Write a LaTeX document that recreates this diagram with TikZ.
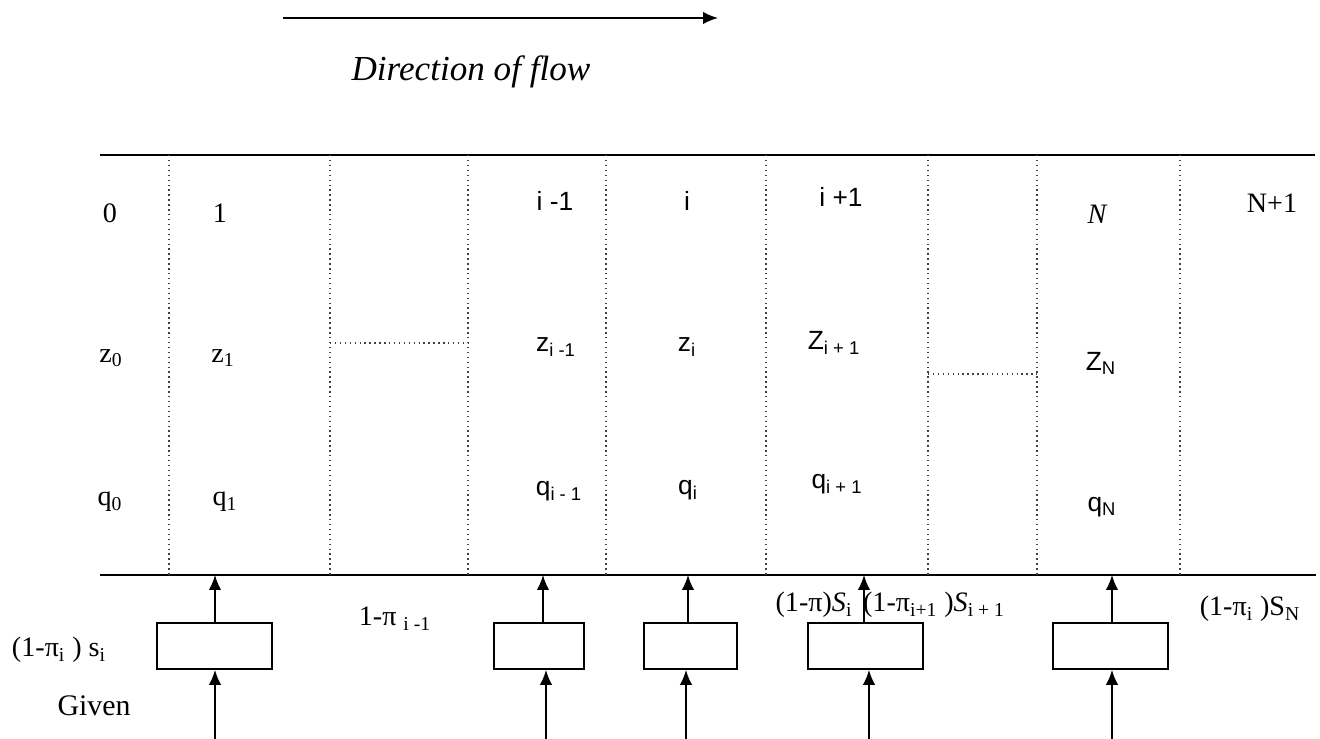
\documentclass[tikz,border=0pt]{standalone}
\usepackage{fontspec}
\setmainfont{Liberation Serif}
\newfontfamily\sanslab{Liberation Sans}
\usetikzlibrary{arrows.meta}
\tikzset{
  lab/.style={font=\fontsize{16}{18}\selectfont, inner sep=0pt},
  slab/.style={font=\sanslab\fontsize{15}{18}\selectfont, inner sep=0pt},
  cell/.style={dotted, line width=0.8pt, draw=black!75},
  rail/.style={line width=1.1pt},
  unit/.style={draw, line width=1pt, minimum height=0.92cm, inner sep=0pt},
  feed/.style={-{Latex[length=0.3cm,width=0.25cm]}, line width=1pt},
}
\begin{document}
\begin{tikzpicture}[x=0.02cm, y=-0.02cm]
\useasboundingbox (0,0) rectangle (1320,739);
% direction of flow
\coordinate (fs) at (283,18);
\coordinate (fe) at (718,18);
\draw[feed] (fs) -- (fe);
\node[font=\fontsize{20}{22}\selectfont\itshape, inner sep=0pt] (flow) at (471,72) {Direction of flow};
% rails
\coordinate (tl) at (100,155); \coordinate (tr) at (1315,155);
\coordinate (bl) at (100,575); \coordinate (br) at (1316,575);
\draw[rail] (tl) -- (tr);
\draw[rail] (bl) -- (br);
% cell walls
\foreach \x in {169,330,468,606,766,928,1037,1180}
  \draw[cell] (\x,155) -- (\x,575);
\draw[cell] (330,343) -- (468,343);
\draw[cell] (928,374) -- (1037,374);
% row 1
\node[lab] (n0) at (110,213) {0};
\node[lab] (n1) at (220,213) {1};
\node[slab] (nim) at (555,201) {i -1};
\node[slab] (ni) at (687,201) {i};
\node[slab] (nip) at (841,197) {i +1};
\node[lab, font=\fontsize{16}{18}\selectfont\itshape] (nN) at (1097,214) {N};
\node[lab] (nN1) at (1272,203) {N+1};
% row 2
\node[lab] (z0) at (111,358) {z\textsubscript{0}};
\node[lab] (z1) at (223,358) {z\textsubscript{1}};
\node[slab] (zim) at (556,347) {z\textsubscript{i -1}};
\node[slab] (zi) at (687,347) {z\textsubscript{i}};
\node[slab] (zip) at (834,343) {Z\textsubscript{i + 1}};
\node[slab] (zN) at (1101,363) {Z\textsubscript{N}};
% row 3
\node[lab] (q0) at (110,502) {q\textsubscript{0}};
\node[lab] (q1) at (225,502) {q\textsubscript{1}};
\node[slab] (qim) at (559,491) {q\textsubscript{i - 1}};
\node[slab] (qi) at (688,490) {q\textsubscript{i}};
\node[slab] (qip) at (837,484) {q\textsubscript{i + 1}};
\node[slab] (qN) at (1102,507) {q\textsubscript{N}};
% boxes
\node[unit, minimum width=2.3cm] (b1) at (214.5,646) {};
\node[unit, minimum width=1.8cm] (b2) at (539,646) {};
\node[unit, minimum width=1.86cm] (b3) at (690.5,646) {};
\node[unit, minimum width=2.3cm] (b4) at (865.5,646) {};
\node[unit, minimum width=2.3cm] (b5) at (1110.5,646) {};
% arrows into the rail
\coordinate (t1) at (215,575);
\coordinate (t2) at (543,575);
\coordinate (t3) at (688,575);
\coordinate (t4) at (864,575);
\coordinate (t5) at (1112,575);
\foreach \k in {1,...,5}
  \draw[feed] (t\k |- b\k.north) -- (t\k);
% arrows into the boxes
\coordinate (g1) at (215,739);
\coordinate (g2) at (546,739);
\coordinate (g3) at (686,739);
\coordinate (g4) at (869,739);
\coordinate (g5) at (1112,739);
\foreach \k in {1,...,5}
  \draw[feed] (g\k) -- (g\k |- b\k.south);
% bottom labels
\node[lab] (s1) at (59,650) {(1-π\textsubscript{i} ) s\textsubscript{i}};
\node[lab, font=\fontsize{17}{19}\selectfont] (given) at (94,706) {Given};
\node[lab] (pim) at (395,619) {1-π \textsubscript{i -1}};
\node[lab] (si) at (814,605) {(1-π)\textit{S}\textsubscript{i}};
\node[lab] (sip) at (934,605) {(1-π\textsubscript{i+1} )\textit{S}\textsubscript{i + 1}};
\node[lab] (sN) at (1250,609) {(1-π\textsubscript{i} )S\textsubscript{N}};
\end{tikzpicture}
\end{document}
